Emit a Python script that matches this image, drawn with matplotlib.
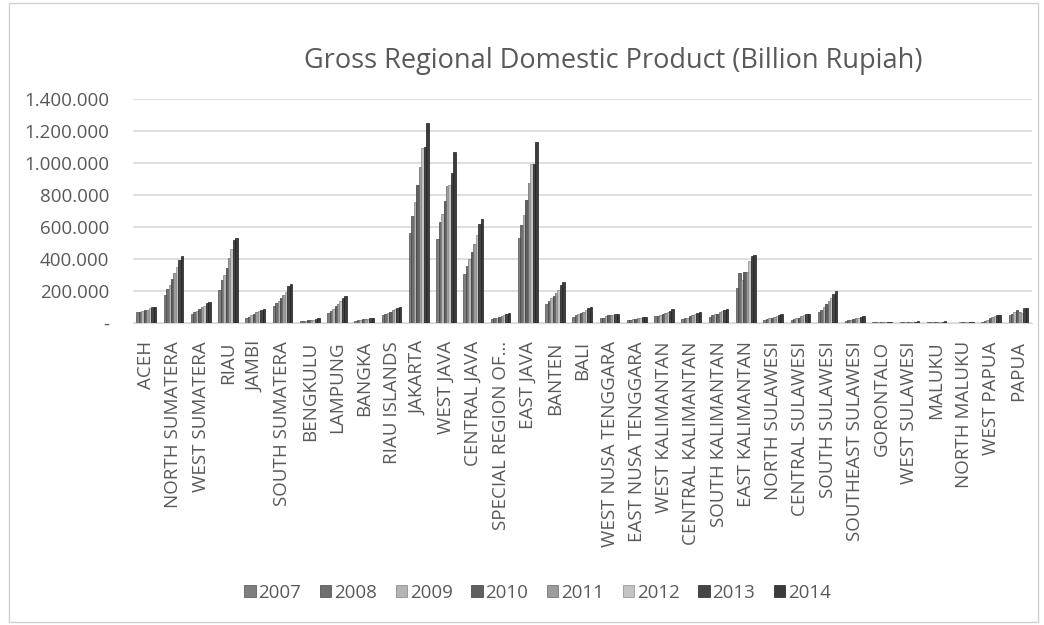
import numpy as np
import matplotlib.pyplot as plt
from matplotlib.patches import Rectangle

# provinces and yearly GRDP, thousands of billion rupiah
provinces = ["ACEH", "NORTH SUMATERA", "WEST SUMATERA", "RIAU", "JAMBI",
             "SOUTH SUMATERA", "BENGKULU", "LAMPUNG", "BANGKA", "RIAU ISLANDS",
             "JAKARTA", "WEST JAVA", "CENTRAL JAVA", "SPECIAL REGION OF\u2026",
             "EAST JAVA", "BANTEN", "BALI", "WEST NUSA TENGGARA",
             "EAST NUSA TENGGARA", "WEST KALIMANTAN", "CENTRAL KALIMANTAN",
             "SOUTH KALIMANTAN", "EAST KALIMANTAN", "NORTH SULAWESI",
             "CENTRAL SULAWESI", "SOUTH SULAWESI", "SOUTHEAST SULAWESI",
             "GORONTALO", "WEST SULAWESI", "MALUKU", "NORTH MALUKU",
             "WEST PAPUA", "PAPUA"]
years = ["2007", "2008", "2009", "2010", "2011", "2012", "2013", "2014"]

grdp = np.array([
    [70, 72, 75, 80, 85, 92, 100, 101],
    [178, 212, 240, 275, 315, 350, 395, 420],
    [60, 70, 78, 88, 98, 110, 125, 132],
    [205, 272, 300, 342, 405, 465, 518, 535],
    [30, 40, 48, 60, 70, 78, 85, 90],
    [110, 128, 140, 155, 175, 195, 230, 245],
    [12, 14, 16, 18, 20, 22, 26, 29],
    [62, 75, 90, 105, 120, 140, 160, 170],
    [14, 18, 20, 23, 26, 28, 32, 35],
    [50, 60, 65, 72, 80, 88, 96, 102],
    [561, 672, 755, 862, 975, 1095, 1100, 1250],
    [526, 629, 681, 764, 857, 862, 940, 1068],
    [310, 360, 400, 445, 495, 550, 620, 652],
    [25, 30, 35, 40, 46, 52, 60, 65],
    [530, 613, 675, 768, 878, 992, 995, 1130],
    [120, 140, 155, 170, 190, 210, 240, 258],
    [40, 48, 55, 62, 72, 82, 95, 102],
    [30, 35, 45, 50, 48, 52, 58, 60],
    [18, 20, 23, 26, 29, 32, 36, 40],
    [42, 46, 52, 58, 63, 70, 78, 86],
    [25, 30, 35, 42, 48, 55, 62, 68],
    [40, 50, 55, 60, 68, 76, 85, 91],
    [222, 313, 271, 319, 322, 391, 418, 428],
    [20, 23, 30, 35, 40, 45, 52, 58],
    [20, 24, 30, 35, 42, 48, 58, 60],
    [70, 85, 100, 120, 140, 155, 180, 200],
    [15, 18, 22, 26, 30, 34, 38, 42],
    [4, 5, 5, 6, 7, 8, 9, 10],
    [5, 6, 6, 7, 8, 9, 10, 11],
    [5, 6, 7, 7, 8, 9, 10, 11],
    [3, 3, 4, 4, 5, 5, 6, 6],
    [10, 15, 22, 30, 38, 42, 48, 52],
    [48, 60, 70, 85, 70, 65, 92, 92],
]) * 1000

bar_colors = ["#7f7f7f", "#6f6f6f", "#b4b4b4", "#606060",
              "#9c9c9c", "#c4c4c4", "#454545", "#3c3c3c"]
edge_colors = ["#505050", "#454545", "#808080", "#3a3a3a",
               "#666666", "#8a8a8a", "#222222", "#1e1e1e"]

plt.rcParams['font.family'] = ['Open Sans', 'DejaVu Sans']

fig = plt.figure(figsize=(10.44, 6.25), dpi=100)
fig.patches.append(Rectangle((0.009, 0.005), 0.985, 0.99, transform=fig.transFigure,
                             fill=False, edgecolor="#d0d0d0", linewidth=1))
ax = fig.add_axes([0.127, 0.483, 0.8615, 0.3584])

x = np.arange(len(provinces))
n = len(years)
w = 0.72 / n
for i, yr in enumerate(years):
    ax.bar(x - 0.36 + w * (i + 0.5), grdp[:, i], width=w, color=bar_colors[i],
           edgecolor=edge_colors[i], linewidth=0.5, label=yr, zorder=3)

ax.set_xlim(-0.5, len(provinces) - 0.5)
ax.set_ylim(0, 1400000)
ticks = np.arange(0, 1400001, 200000)
ax.set_yticks(ticks)
ax.set_yticklabels(["-" if t == 0 else f"{t:,}".replace(",", ".") for t in ticks],
                   fontsize=13.5, color="#595959")
ax.set_xticks(x)
ax.set_xticklabels(provinces, rotation=90, fontsize=13.5, color="#595959")
ax.tick_params(axis="x", length=0, pad=13)
ax.tick_params(axis="y", length=0, pad=17)
ax.grid(axis="y", color="#d9d9d9", linewidth=1.2, zorder=0)
for s in ["top", "right", "left"]:
    ax.spines[s].set_visible(False)
ax.spines["bottom"].set_color("#d9d9d9")

fig.text(0.587, 0.902, "Gross Regional Domestic Product (Billion Rupiah)",
         ha="center", va="center", fontsize=19.5, color="#595959")

fig.legend(loc="center", bbox_to_anchor=(0.515, 0.052), ncol=8, frameon=False,
           fontsize=13.5, handlelength=0.6, handleheight=0.6, handletextpad=0.15,
           columnspacing=1.0, labelcolor="#595959")

fig.savefig("out.png", dpi=100)
